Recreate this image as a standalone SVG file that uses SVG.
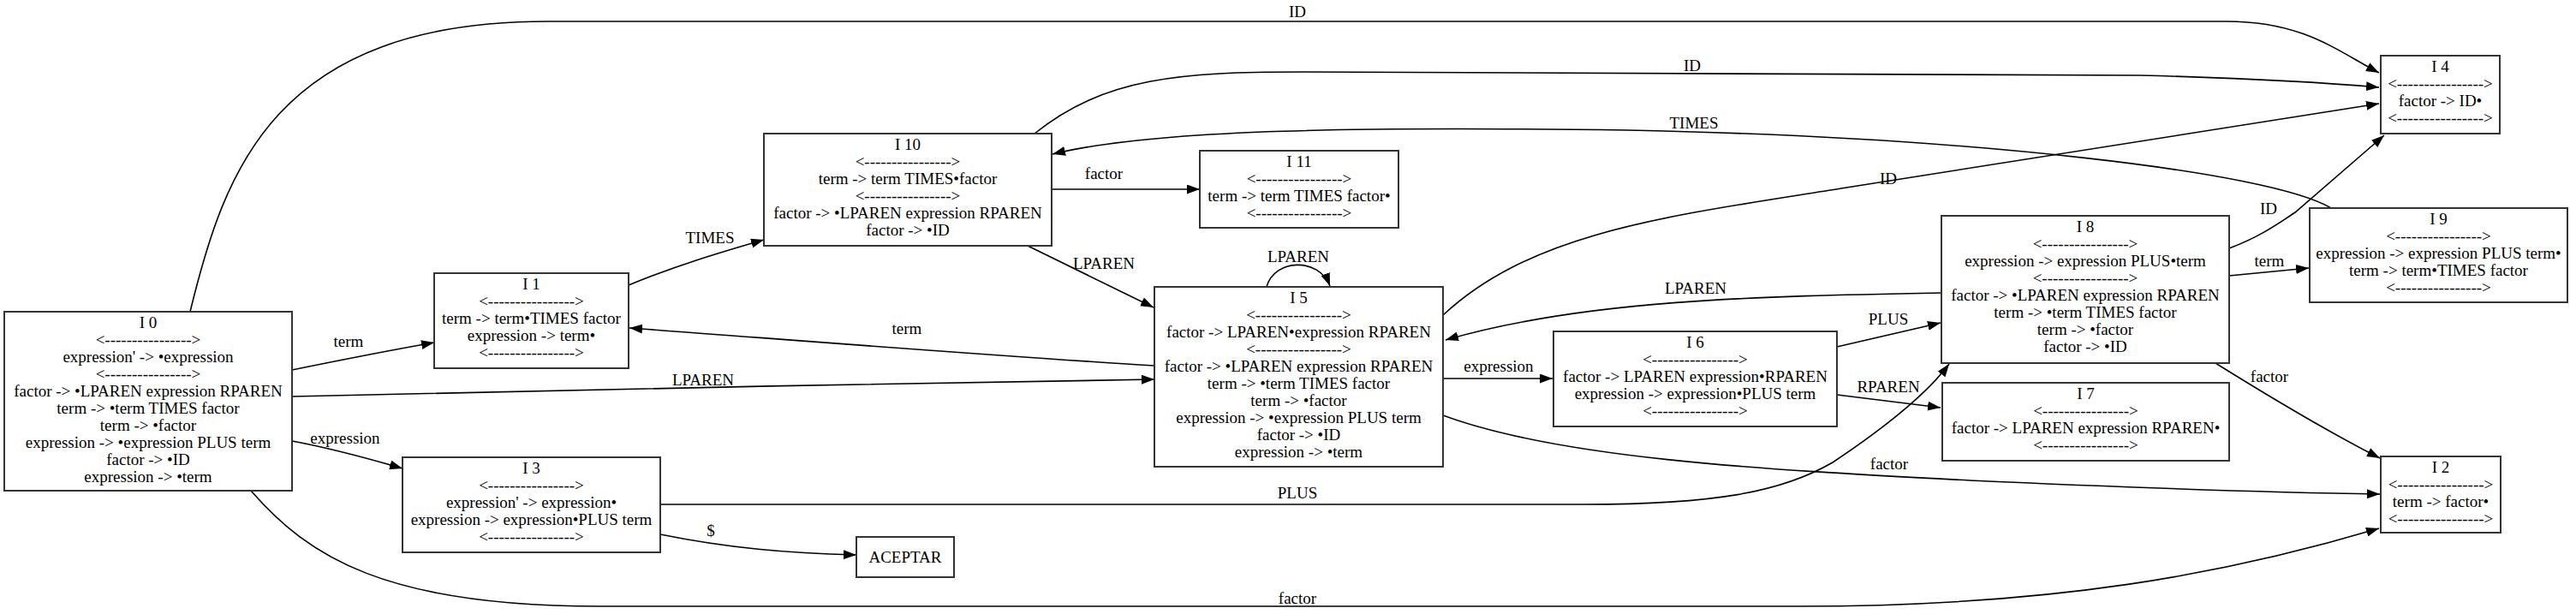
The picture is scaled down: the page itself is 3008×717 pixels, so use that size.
<svg xmlns="http://www.w3.org/2000/svg" width="3008" height="717" viewBox="0 0 3008 717">
<style>
text{font-family:"Liberation Serif","Times New Roman",serif;font-size:19px;fill:#000}
.n text{text-anchor:middle}
.n rect{fill:#fff;stroke:#333;stroke-width:2}
.e path{fill:none;stroke:#000;stroke-width:1.6;marker-end:url(#ah)}
.lbl text{text-anchor:middle}
</style>
<defs>
<marker id="ah" markerWidth="15" markerHeight="11" refX="15" refY="5.5" orient="auto" markerUnits="userSpaceOnUse"><path d="M0,0 L15,5.5 L0,11 z" fill="#000"/></marker>
</defs>
<rect width="3008" height="717" fill="#fff"/>
<g id="edges" class="e">
<path d="M222 364 C262 200 320 25 640 25 L2600 25 C2690 25 2730 60 2778 85"/>
<path d="M1208 156 C1290 90 1380 84 1520 84 L2500 88 C2650 92 2720 97 2778 102"/>
<path d="M1685 368 C1790 270 1950 252 2150 220 L2778 121"/>
<path d="M2603 290 C2635 278 2655 265 2680 248 L2784 158"/>
<path d="M341 432 C400 420 450 410 507 400"/>
<path d="M734 333 C790 310 840 295 892 280"/>
<path d="M1228 221 L1401 221"/>
<path d="M1200 287 L1347 359"/>
<path d="M1479 335 C1488 302 1540 300 1553 334"/>
<path d="M1348 427 C1150 415 900 395 735 383"/>
<path d="M341 463 C700 455 1000 448 1348 443"/>
<path d="M341 515 C395 525 435 537 470 547"/>
<path d="M293 573 C360 650 450 708 700 708 L2100 708 C2400 708 2600 670 2778 617"/>
<path d="M771 624 C850 640 920 646 1000 648"/>
<path d="M771 589 L1850 589 C2000 589 2080 575 2140 540 C2200 500 2250 460 2276 425"/>
<path d="M1685 442 L1813 442"/>
<path d="M2145 405 L2266 377"/>
<path d="M2145 461 L2266 476"/>
<path d="M2268 342 C2050 346 1850 350 1688 397"/>
<path d="M2603 322 L2696 313"/>
<path d="M2587 424 C2640 457 2720 505 2779 535"/>
<path d="M1685 485 C1820 535 2050 548 2300 561 C2500 570 2650 575 2779 577"/>
<path d="M2722 243 C2650 200 2300 160 1900 152 C1600 148 1350 150 1229 180"/>
</g>
<g id="edge-labels" class="lbl">
<text x="1515" y="20">ID</text>
<text x="1976" y="83">ID</text>
<text x="2205" y="215">ID</text>
<text x="2649" y="250">ID</text>
<text x="407" y="405">term</text>
<text x="829" y="284">TIMES</text>
<text x="1289" y="209">factor</text>
<text x="1289" y="314">LPAREN</text>
<text x="1516" y="306">LPAREN</text>
<text x="1059" y="390">term</text>
<text x="821" y="450">LPAREN</text>
<text x="403" y="518">expression</text>
<text x="1515" y="705">factor</text>
<text x="830" y="626">$</text>
<text x="1515" y="582">PLUS</text>
<text x="1750" y="434">expression</text>
<text x="2205" y="379">PLUS</text>
<text x="2205" y="458">RPAREN</text>
<text x="1980" y="343">LPAREN</text>
<text x="2650" y="311">term</text>
<text x="2650" y="446">factor</text>
<text x="2206" y="548">factor</text>
<text x="1978" y="150">TIMES</text>
</g>
<g id="I0" class="n">
<rect x="5" y="364" width="336" height="209"/>
<text x="173" y="383">I 0</text>
<text x="173" y="403">&lt;----------------&gt;</text>
<text x="173" y="423">expression' -&gt; •expression</text>
<text x="173" y="443">&lt;----------------&gt;</text>
<text x="173" y="463">factor -&gt; •LPAREN expression RPAREN</text>
<text x="173" y="483">term -&gt; •term TIMES factor</text>
<text x="173" y="503">term -&gt; •factor</text>
<text x="173" y="523">expression -&gt; •expression PLUS term</text>
<text x="173" y="543">factor -&gt; •ID</text>
<text x="173" y="563">expression -&gt; •term</text>
</g>
<g id="I1" class="n">
<rect x="507" y="319" width="227" height="111"/>
<text x="620.5" y="338">I 1</text>
<text x="620.5" y="358">&lt;----------------&gt;</text>
<text x="620.5" y="378">term -&gt; term•TIMES factor</text>
<text x="620.5" y="398">expression -&gt; term•</text>
<text x="620.5" y="418">&lt;----------------&gt;</text>
</g>
<g id="I10" class="n">
<rect x="892" y="156" width="336" height="131"/>
<text x="1060" y="175">I 10</text>
<text x="1060" y="195">&lt;----------------&gt;</text>
<text x="1060" y="215">term -&gt; term TIMES•factor</text>
<text x="1060" y="235">&lt;----------------&gt;</text>
<text x="1060" y="255">factor -&gt; •LPAREN expression RPAREN</text>
<text x="1060" y="275">factor -&gt; •ID</text>
</g>
<g id="I11" class="n">
<rect x="1401" y="176" width="232" height="90"/>
<text x="1517" y="195">I 11</text>
<text x="1517" y="215">&lt;----------------&gt;</text>
<text x="1517" y="235">term -&gt; term TIMES factor•</text>
<text x="1517" y="255">&lt;----------------&gt;</text>
</g>
<g id="I5" class="n">
<rect x="1348" y="335" width="337" height="210"/>
<text x="1516.5" y="354">I 5</text>
<text x="1516.5" y="374">&lt;----------------&gt;</text>
<text x="1516.5" y="394">factor -&gt; LPAREN•expression RPAREN</text>
<text x="1516.5" y="414">&lt;----------------&gt;</text>
<text x="1516.5" y="434">factor -&gt; •LPAREN expression RPAREN</text>
<text x="1516.5" y="454">term -&gt; •term TIMES factor</text>
<text x="1516.5" y="474">term -&gt; •factor</text>
<text x="1516.5" y="494">expression -&gt; •expression PLUS term</text>
<text x="1516.5" y="514">factor -&gt; •ID</text>
<text x="1516.5" y="534">expression -&gt; •term</text>
</g>
<g id="I6" class="n">
<rect x="1814" y="387" width="331" height="111"/>
<text x="1979.5" y="406">I 6</text>
<text x="1979.5" y="426">&lt;----------------&gt;</text>
<text x="1979.5" y="446">factor -&gt; LPAREN expression•RPAREN</text>
<text x="1979.5" y="466">expression -&gt; expression•PLUS term</text>
<text x="1979.5" y="486">&lt;----------------&gt;</text>
</g>
<g id="I7" class="n">
<rect x="2268" y="447" width="335" height="91"/>
<text x="2435.5" y="466">I 7</text>
<text x="2435.5" y="486">&lt;----------------&gt;</text>
<text x="2435.5" y="506">factor -&gt; LPAREN expression RPAREN•</text>
<text x="2435.5" y="526">&lt;----------------&gt;</text>
</g>
<g id="I8" class="n">
<rect x="2267" y="252" width="336" height="172"/>
<text x="2435" y="271">I 8</text>
<text x="2435" y="291">&lt;----------------&gt;</text>
<text x="2435" y="311">expression -&gt; expression PLUS•term</text>
<text x="2435" y="331">&lt;----------------&gt;</text>
<text x="2435" y="351">factor -&gt; •LPAREN expression RPAREN</text>
<text x="2435" y="371">term -&gt; •term TIMES factor</text>
<text x="2435" y="391">term -&gt; •factor</text>
<text x="2435" y="411">factor -&gt; •ID</text>
</g>
<g id="I9" class="n">
<rect x="2697" y="243" width="301" height="110"/>
<text x="2847.5" y="262">I 9</text>
<text x="2847.5" y="282">&lt;----------------&gt;</text>
<text x="2847.5" y="302">expression -&gt; expression PLUS term•</text>
<text x="2847.5" y="322">term -&gt; term•TIMES factor</text>
<text x="2847.5" y="342">&lt;----------------&gt;</text>
</g>
<g id="I4" class="n">
<rect x="2780" y="65" width="139" height="91"/>
<text x="2849.5" y="84">I 4</text>
<text x="2849.5" y="104">&lt;----------------&gt;</text>
<text x="2849.5" y="124">factor -&gt; ID•</text>
<text x="2849.5" y="144">&lt;----------------&gt;</text>
</g>
<g id="I2" class="n">
<rect x="2780" y="533" width="140" height="89"/>
<text x="2850" y="552">I 2</text>
<text x="2850" y="572">&lt;----------------&gt;</text>
<text x="2850" y="592">term -&gt; factor•</text>
<text x="2850" y="612">&lt;----------------&gt;</text>
</g>
<g id="I3" class="n">
<rect x="470" y="534" width="301" height="111"/>
<text x="620.5" y="553">I 3</text>
<text x="620.5" y="573">&lt;----------------&gt;</text>
<text x="620.5" y="593">expression' -&gt; expression•</text>
<text x="620.5" y="613">expression -&gt; expression•PLUS term</text>
<text x="620.5" y="633">&lt;----------------&gt;</text>
</g>
<g id="ACEPTAR" class="n">
<rect x="1000" y="627" width="114" height="47"/>
<text x="1057" y="657">ACEPTAR</text>
</g>
</svg>
